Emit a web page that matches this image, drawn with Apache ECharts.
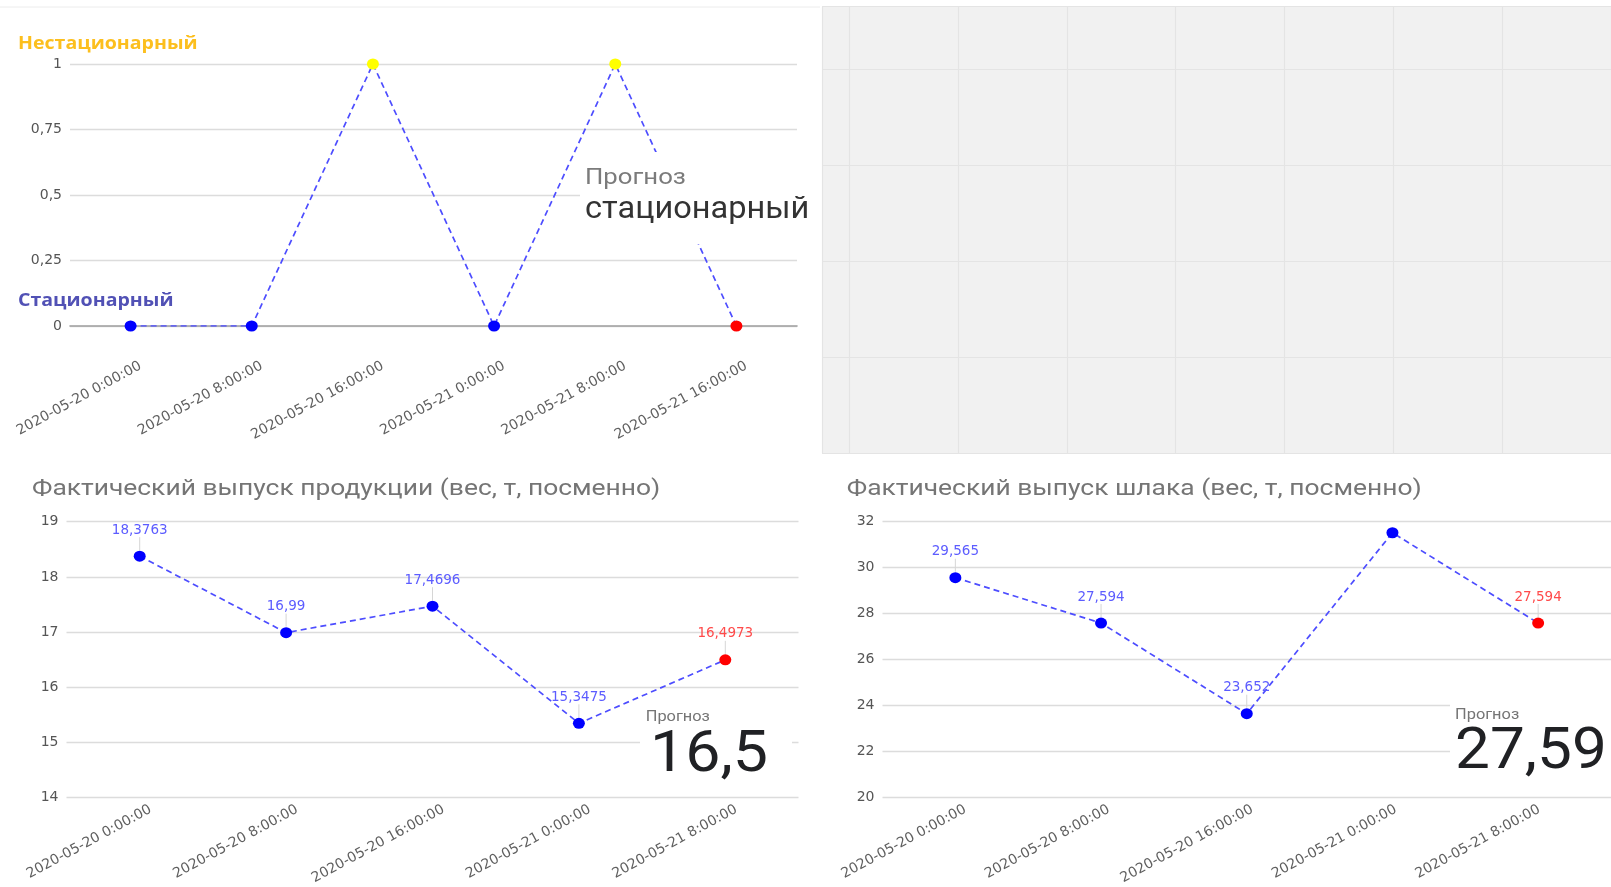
<!DOCTYPE html>
<html>
<head>
<meta charset="utf-8">
<script src="https://cdn.jsdelivr.net/npm/echarts@6/dist/echarts.min.js"></script>
<style>
  html, body { margin: 0; padding: 0; background: #ffffff; }
  #board { width: 1611px; height: 887px; }
</style>
</head>
<body>
<div id="board"></div>
<script>
// Shift start times
const modeShifts = [
  '2020-05-20 0:00:00', '2020-05-20 8:00:00', '2020-05-20 16:00:00',
  '2020-05-21 0:00:00', '2020-05-21 8:00:00', '2020-05-21 16:00:00'
];
const outputShifts = [
  '2020-05-20 0:00:00', '2020-05-20 8:00:00', '2020-05-20 16:00:00',
  '2020-05-21 0:00:00', '2020-05-21 8:00:00'
];

// Process mode: 0 = stationary, 1 = non-stationary (last point is the forecast)
const modeValues = [0, 0, 1, 0, 1, 0];
const modeTicks = [0, 0.25, 0.5, 0.75, 1];
const modeNames = ['Стационарный', 'Нестационарный'];
const modeForecastText = 'стационарный';

// Product output per shift, t (last point is the forecast)
const productValues = [18.3763, 16.99, 17.4696, 15.3475, 16.4973];
const productTicks = [14, 15, 16, 17, 18, 19];
const productTitle = 'Фактический выпуск продукции (вес, т, посменно)';
const productForecastText = '16,5';

// Slag output per shift, t (last point is the forecast)
const slagValues = [29.565, 27.594, 23.652, 31.52, 27.594];
const slagTicks = [20, 22, 24, 26, 28, 30, 32];
const slagTitle = 'Фактический выпуск шлака (вес, т, посменно)';
const slagForecastText = '27,59';

const forecastCaption = 'Прогноз';

// ---------- styling helpers ----------
const NUM_FONT = 'DejaVu Sans';
const TXT_FONT = 'Roboto';
const BLUE = '#0000ff';
const RED = '#ff0000';
const YELLOW = '#ffff00';
const LINE_BLUE = '#4d4dff';
const GRID_GRAY = '#dcdcdc';
const comma = v => String(v).replace('.', ',');

function tickRange(ticks) {
  return { min: ticks[0], max: ticks[ticks.length - 1], interval: ticks[1] - ticks[0] };
}

// Plot rectangles
const rects = {
  mode:    { left: 70,    top: 64,    width: 727, height: 262 },
  product: { left: 66.5,  top: 521.7, width: 732, height: 276 },
  slag:    { left: 882.5, top: 521.7, width: 731, height: 276 }
};

const grids = [];
const xAxes = [];
const yAxes = [];
const series = [];

function valueAxis(gridIndex, ticks, extra) {
  const r = tickRange(ticks);
  return Object.assign({
    type: 'value', gridIndex, min: r.min, max: r.max, interval: r.interval,
    axisLine: { show: false }, axisTick: { show: false },
    axisLabel: { margin: 8, color: '#555', fontFamily: NUM_FONT, fontSize: 14, formatter: comma },
    splitLine: { show: true, lineStyle: { color: GRID_GRAY, width: 1.3 } }
  }, extra || {});
}

// A plot grid plus a twin grid that only carries the rotated shift labels
function addPanel(rect, cats, ticks, labelShift, labelMargin, zeroLine) {
  const gi = grids.length;
  grids.push(Object.assign({ containLabel: false }, rect));
  grids.push({ left: rect.left + labelShift, top: rect.top, width: rect.width, height: rect.height });
  xAxes.push({
    type: 'category', gridIndex: gi, data: cats, boundaryGap: true,
    axisLine: { show: !!zeroLine, onZero: false, lineStyle: { color: '#9e9e9e', width: 1.6 } },
    axisTick: { show: false }, axisLabel: { show: false }, splitLine: { show: false }
  });
  xAxes.push({
    type: 'category', gridIndex: gi + 1, data: cats, boundaryGap: true,
    axisLine: { show: false, onZero: false }, axisTick: { show: false }, splitLine: { show: false },
    axisLabel: {
      interval: 0, rotate: 28.5, margin: labelMargin, color: '#5f5f5f',
      fontFamily: NUM_FONT, fontSize: 14
    }
  });
  yAxes.push(valueAxis(gi, ticks));
  yAxes.push({ type: 'value', gridIndex: gi + 1, show: false });
  return gi;
}

function lineSeries(gi, values, colorOf, withLabels, labelRoom) {
  const last = values.length - 1;
  const r = tickRange(labelRoom.ticks);
  const hidden = i => (r.max - values[i]) / (r.max - r.min) * labelRoom.height < 20;
  series.push({
    type: 'line', xAxisIndex: gi, yAxisIndex: gi, z: 3,
    symbol: 'circle', symbolSize: [12, 11],
    lineStyle: { color: LINE_BLUE, width: 1.7, type: [6, 4] },
    label: {
      show: withLabels, position: 'top', distance: 13.5,
      fontFamily: NUM_FONT, fontSize: 13.5, formatter: p => comma(p.value)
    },
    data: values.map((v, i) => ({
      value: v,
      itemStyle: { color: colorOf(v, i, last) },
      label: {
        show: withLabels && !hidden(i),
        color: i === last ? '#ff4a4a' : '#5c5cff'
      }
    }))
  });
  if (withLabels) {
    // thin leader from each value label down to its point
    series.push({
      type: 'custom', xAxisIndex: gi, yAxisIndex: gi, z: 1,
      data: values.map((v, i) => [i, v]).filter((d, i) => !hidden(i)),
      renderItem: (params, api) => {
        const p = api.coord([api.value(0), api.value(1)]);
        return {
          type: 'line',
          shape: { x1: p[0], y1: p[1] - 6, x2: p[0], y2: p[1] - 19 },
          style: { stroke: '#d6d6d6', lineWidth: 1 }
        };
      }
    });
  }
}

// ---------- process mode ----------
const gMode = addPanel(rects.mode, modeShifts, modeTicks, 10, 39, true);
lineSeries(gMode, modeValues,
  (v, i, last) => (i === last ? RED : (v === 1 ? YELLOW : BLUE)),
  false, { ticks: modeTicks, height: rects.mode.height });

// ---------- product output ----------
const gProd = addPanel(rects.product, outputShifts, productTicks, 11, 16, false);
lineSeries(gProd, productValues, (v, i, last) => (i === last ? RED : BLUE),
  true, { ticks: productTicks, height: rects.product.height });

// ---------- slag output ----------
const gSlag = addPanel(rects.slag, outputShifts, slagTicks, 11, 16, false);
lineSeries(gSlag, slagValues, (v, i, last) => (i === last ? RED : BLUE),
  true, { ticks: slagTicks, height: rects.slag.height });

// ---------- empty placeholder panel (top right) ----------
const gEmpty = grids.length;
grids.push({ left: 822, right: -1, top: 6.7, bottom: 433.7, show: true,
  backgroundColor: '#f1f1f1', borderWidth: 0 });
xAxes.push({ type: 'value', gridIndex: gEmpty, inverse: true, min: 0, max: 7.25, interval: 1,
  axisLine: { show: false }, axisTick: { show: false }, axisLabel: { show: false },
  splitLine: { show: true, lineStyle: { color: '#e4e4e4', width: 1.2 } } });
yAxes.push({ type: 'value', gridIndex: gEmpty, min: 0, max: 4.65, interval: 1,
  axisLine: { show: false }, axisTick: { show: false }, axisLabel: { show: false },
  splitLine: { show: true, lineStyle: { color: '#e4e4e4', width: 1.2 } } });

// ---------- free text and forecast cards ----------
function txt(x, y, text, font, fill, sx) {
  return {
    type: 'text', x, y, z: 110, scaleX: sx || 1, scaleY: 1,
    style: { text, font, fill, textAlign: 'left', textVerticalAlign: 'middle' }
  };
}
function card(x, y, w, h) {
  return { type: 'rect', z: 100, shape: { x, y, width: w, height: h }, style: { fill: '#ffffff' } };
}

const graphics = [
  { type: 'line', z: 5, shape: { x1: 0, y1: 7, x2: 820, y2: 7 }, style: { stroke: '#ececec', lineWidth: 1 } },
  txt(18, 44.3, modeNames[1], 'bold 17px "Open Sans"', '#fcbf1e', 1.15),
  txt(18, 301, modeNames[0], 'bold 17px "Open Sans"', '#5151b5', 1.15),

  card(580, 152, 240, 92),
  txt(585, 178.5, forecastCaption, '22px ' + TXT_FONT, '#7b7b7b', 1.17),
  txt(585, 210.5, modeForecastText, '31px ' + TXT_FONT, '#333333', 1.05),

  txt(32, 489.5, productTitle, '22px ' + TXT_FONT, '#757575', 1.2),
  txt(846.8, 489.5, slagTitle, '22px ' + TXT_FONT, '#757575', 1.2),

  card(640, 704, 152, 88),
  txt(645.7, 717.7, forecastCaption, '14px ' + TXT_FONT, '#757575', 1.17),
  txt(650, 757, productForecastText, '57px ' + TXT_FONT, '#202124', 1.1),

  card(1450, 692, 161, 98),
  txt(1455, 715, forecastCaption, '14px ' + TXT_FONT, '#757575', 1.17),
  txt(1455, 753.7, slagForecastText, '57px ' + TXT_FONT, '#202124', 1.09)
];

const chart = echarts.init(document.getElementById('board'), null, { renderer: 'canvas' });
chart.setOption({
  animation: false,
  backgroundColor: '#ffffff',
  grid: grids,
  xAxis: xAxes,
  yAxis: yAxes,
  series: series,
  graphic: { elements: graphics }
});
</script>
</body>
</html>
